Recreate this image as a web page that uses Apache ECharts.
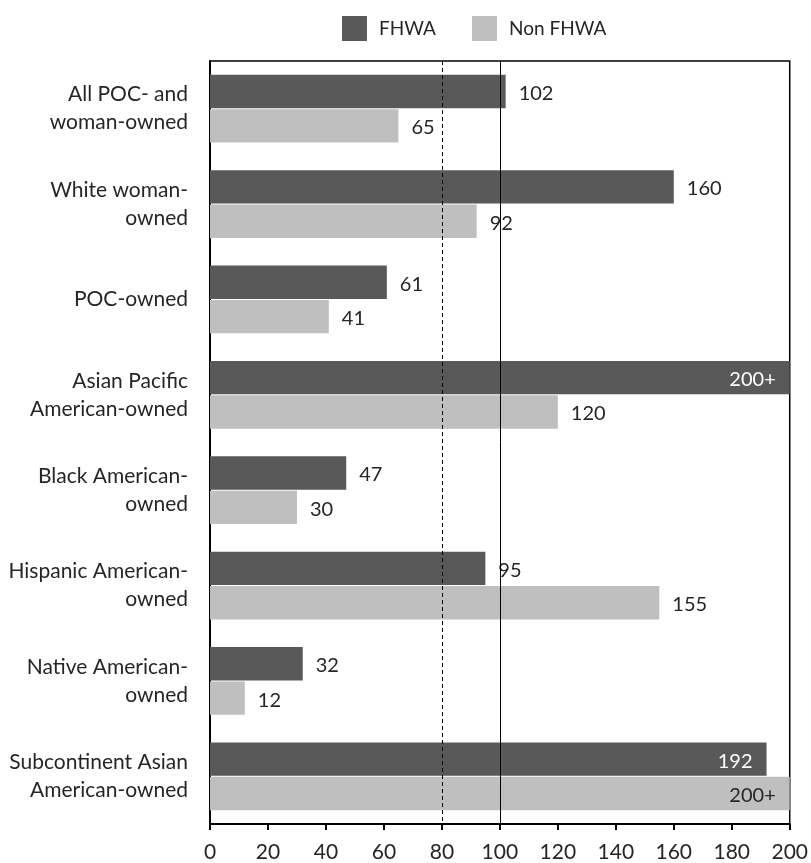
<!DOCTYPE html>
<html>
<head>
<meta charset="utf-8">
<style>
  html, body { margin: 0; padding: 0; background: #ffffff; }
  #chart { width: 811px; height: 863px; }
</style>
<script src="https://cdn.jsdelivr.net/npm/echarts@6/dist/echarts.min.js"></script>
</head>
<body>
<div id="chart"></div>
<script>
// Firm categories (top to bottom)
const categories = [
  'All POC- and\nwoman-owned',
  'White woman-\nowned',
  'POC-owned',
  'Asian Pacific\nAmerican-owned',
  'Black American-\nowned',
  'Hispanic American-\nowned',
  'Native American-\nowned',
  'Subcontinent Asian\nAmerican-owned'
];

// Values; 200 stands for the capped "200+" entries
const fhwaValues    = [102, 160, 61, 200, 47, 95, 32, 192];
const nonFhwaValues = [65, 92, 41, 120, 30, 155, 12, 200];

const axisMax = 200;
const axisTicks = [0, 20, 40, 60, 80, 100, 120, 140, 160, 180, 200];
const dashedRef = 80;
const solidRef = 100;

const FONT = 'Lato, "Open Sans", sans-serif';
const TEXT = '#262626';

function labelText(v) { return v >= axisMax ? axisMax + '+' : String(v); }

// Bars that reach near the axis end carry their label inside
function buildData(values, insideColor) {
  return values.map(v => {
    if (v >= 190) {
      return {
        value: v,
        label: { position: 'insideRight', distance: 14, color: insideColor }
      };
    }
    return v;
  });
}

const chart = echarts.init(document.getElementById('chart'), null, { renderer: 'canvas' });

chart.setOption({
  animation: false,
  backgroundColor: '#ffffff',
  textStyle: { fontFamily: FONT },
  legend: {
    top: 11,
    left: 337,
    itemWidth: 25,
    itemHeight: 25,
    itemGap: 36,
    icon: 'rect',
    textStyle: { fontFamily: FONT, fontSize: 19, color: TEXT, padding: [0, 0, 0, 7] },
    data: ['FHWA', 'Non FHWA']
  },
  grid: {
    left: 210,
    right: 16,
    top: 61,
    bottom: 35,
    show: true,
    borderColor: '#000000',
    borderWidth: 1.5,
    containLabel: false
  },
  xAxis: {
    type: 'value',
    min: 0,
    max: axisMax,
    interval: 20,
    axisLine: { show: true, lineStyle: { color: '#000000', width: 2 } },
    axisTick: { show: true, length: 6, lineStyle: { color: '#000000', width: 2 } },
    axisLabel: {
      fontFamily: FONT, fontSize: 21, color: TEXT, margin: 18,
      formatter: v => axisTicks.includes(v) ? String(v) : ''
    },
    splitLine: { show: false }
  },
  yAxis: {
    type: 'category',
    inverse: true,
    data: categories,
    axisLine: { show: true, lineStyle: { color: '#000000', width: 2 } },
    axisTick: { show: false },
    axisLabel: {
      fontFamily: FONT, fontSize: 21, color: TEXT, margin: 22,
      align: 'right', lineHeight: 28
    }
  },
  series: [
    {
      name: 'FHWA',
      type: 'bar',
      barCategoryGap: '29%',
      barGap: '3%',
      itemStyle: { color: '#595959' },
      label: {
        show: true, position: 'right', distance: 13, offset: [0, 2],
        fontFamily: FONT, fontSize: 20, color: TEXT,
        formatter: p => labelText(p.value)
      },
      data: buildData(fhwaValues, '#ffffff'),
      markLine: {
        silent: true,
        symbol: 'none',
        label: { show: false },
        data: [
          { xAxis: dashedRef, lineStyle: { type: [4, 3], color: '#000000', width: 1 } },
          { xAxis: solidRef, lineStyle: { type: 'solid', color: '#000000', width: 1 } }
        ]
      },
      z: 2
    },
    {
      name: 'Non FHWA',
      type: 'bar',
      barCategoryGap: '29%',
      barGap: '3%',
      itemStyle: { color: '#bfbfbf' },
      label: {
        show: true, position: 'right', distance: 13, offset: [0, 2],
        fontFamily: FONT, fontSize: 20, color: TEXT,
        formatter: p => labelText(p.value)
      },
      data: buildData(nonFhwaValues, TEXT),
      z: 2
    }
  ]
});
</script>
</body>
</html>
